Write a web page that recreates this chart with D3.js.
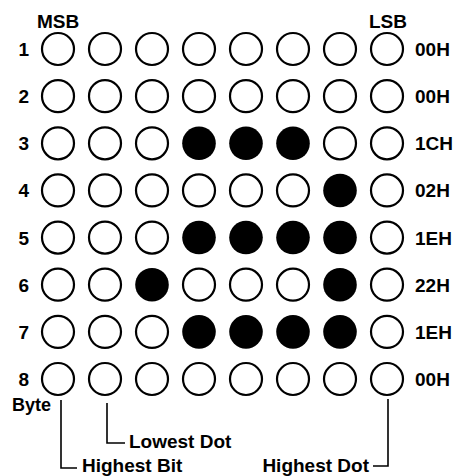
<!DOCTYPE html>
<html>
<head>
<meta charset="utf-8">
<style>
  body { margin: 0; background: #fff; }
  svg { display: block; }
  text { font-family: 'Liberation Sans', Arial, sans-serif; font-weight: bold; fill: #000; }
</style>
</head>
<body>
<svg width="456" height="476"></svg>
<script src="https://d3js.org/d3.v7.min.js"></script>
<script>
// one byte per row, MSB on the left
const rowLabels = ["1", "2", "3", "4", "5", "6", "7", "8"];
const bytes = [0x00, 0x00, 0x1C, 0x02, 0x1E, 0x22, 0x1E, 0x00];
const hexLabels = ["00H", "00H", "1CH", "02H", "1EH", "22H", "1EH", "00H"];
const bitIndex = [7, 6, 5, 4, 3, 2, 1, 0];

const svg = d3.select("svg");

const x = d3.scalePoint().domain(d3.range(8)).range([58, 387]);
const y = d3.scalePoint().domain(d3.range(8)).range([49, 379]);
const r = 16;

// cells
const cells = [];
bytes.forEach((b, row) => {
  bitIndex.forEach((bit, col) => {
    cells.push({ row, col, on: (b >> bit) & 1 });
  });
});

svg.append("g")
  .selectAll("circle")
  .data(cells)
  .join("circle")
  .attr("cx", d => x(d.col))
  .attr("cy", d => y(d.row))
  .attr("r", d => d.on ? r + 0.8 : r)
  .attr("fill", d => d.on ? "#000" : "#fff")
  .attr("stroke", "#000")
  .attr("stroke-width", d => d.on ? 0 : 2.2);

// row numbers
svg.append("g")
  .selectAll("text")
  .data(rowLabels)
  .join("text")
  .attr("x", 29)
  .attr("y", (d, i) => y(i) + 7)
  .attr("text-anchor", "end")
  .attr("font-size", 19)
  .text(d => d);

// hex values
svg.append("g")
  .selectAll("text")
  .data(hexLabels)
  .join("text")
  .attr("x", 415)
  .attr("y", (d, i) => y(i) + 7)
  .attr("font-size", 19)
  .text(d => d);

svg.append("text").attr("x", x(0)).attr("y", 28).attr("text-anchor", "middle")
  .attr("font-size", 19).text("MSB");
svg.append("text").attr("x", x(7) + 1).attr("y", 28).attr("text-anchor", "middle")
  .attr("font-size", 19).text("LSB");

svg.append("text").attr("x", 12).attr("y", 411).attr("font-size", 18).text("Byte");

// callout lines
const line = svg.append("g").attr("fill", "none").attr("stroke", "#000").attr("stroke-width", 1.6);
line.append("path").attr("d", `M${x(0) + 3},400 V468 H77`);
line.append("path").attr("d", `M${x(1) + 2},403 V443 H125`);
line.append("path").attr("d", `M${x(7) + 1},399 V466 H373`);

svg.append("text").attr("x", 82).attr("y", 472).attr("font-size", 19).text("Highest Bit");
svg.append("text").attr("x", 129).attr("y", 448).attr("font-size", 19).text("Lowest Dot");
svg.append("text").attr("x", 369).attr("y", 472).attr("text-anchor", "end")
  .attr("font-size", 19).text("Highest Dot");
</script>
</body>
</html>
